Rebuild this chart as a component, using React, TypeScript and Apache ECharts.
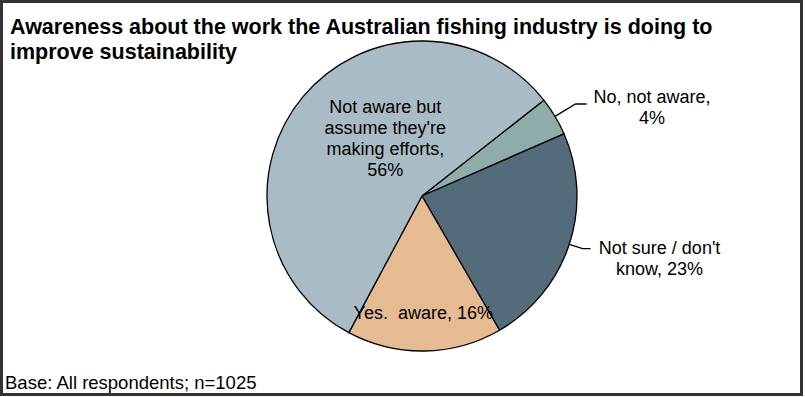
import React, { useEffect, useRef } from "react";
import * as echarts from "echarts";

const titleLines = [
  "Awareness about the work the Australian fishing industry is doing to",
  "improve sustainability",
];
const footnote = "Base: All respondents; n=1025";
const categories = [
  "No, not aware",
  "Not sure / don't know",
  "Yes.  aware",
  "Not aware but assume they're making efforts",
];
const values = [4, 23, 16, 56];
const labelTexts = [
  ["No, not aware,", "4%"],
  ["Not sure / don't", "know, 23%"],
  ["Yes.  aware, 16%"],
  ["Not aware but", "assume they're", "making efforts,", "56%"],
];
const colors = ["#8FABAA", "#546B7B", "#E6BB92", "#A9BCC5"];

export default function App() {
  const ref = useRef<HTMLDivElement>(null);
  useEffect(() => {
    if (!ref.current) return;
    const chart = echarts.init(ref.current, null, { renderer: "svg" });
    const font = "'Liberation Sans', Arial, sans-serif";
    const insideOffsets: Record<number, [number, number]> = {
      2: [0, 37],
      3: [25, -6],
    };
    const boxWidths = [121, 128, 170, 140];
    const padTop = [6, 20, 0, 0];
    const lineLens: Record<number, [number, number]> = {
      0: [24, 11],
      1: [14, 8],
    };
    const data = values.map((v, i) => {
      const outside = i < 2;
      const lines = labelTexts[i];
      return {
        name: categories[i],
        value: v,
        itemStyle: { color: colors[i] },
        label: {
          show: true,
          position: outside ? "outside" : "inside",
          padding: [padTop[i], 0, 0, 0],
          formatter: lines.map((l) => `{a|${l}}`).join("\n"),
          rich: {
            a: {
              fontFamily: font,
              fontSize: 18,
              color: "#000",
              lineHeight: 21,
              width: boxWidths[i],
              align: "center",
            },
          },
        },
        labelLine: outside
          ? {
              show: true,
              length: lineLens[i][0],
              length2: lineLens[i][1],
              lineStyle: { color: "#000", width: 1.3 },
            }
          : { show: false },
      };
    });
    chart.setOption({
      animation: false,
      backgroundColor: "#fff",
      graphic: [
        {
          type: "rect",
          shape: { x: 1.5, y: 1.5, width: 800, height: 393 },
          style: { fill: "none", stroke: "#333", lineWidth: 3 },
          silent: true,
        },
        ...titleLines.map((t, i) => ({
          type: "text",
          left: 10,
          top: 16 + i * 25,
          style: {
            text: t,
            font: `bold 21.5px ${font}`,
            fill: "#000",
          },
        })),
        {
          type: "text",
          left: 5,
          top: 373,
          style: { text: footnote, font: `18.5px ${font}`, fill: "#000" },
        },
      ],
      series: [
        {
          type: "pie",
          center: [422, 196],
          radius: 155,
          startAngle: 38.2,
          clockwise: true,
          avoidLabelOverlap: false,
          itemStyle: { borderColor: "#000", borderWidth: 1.3 },
          emphasis: { disabled: true },
          data,
          labelLayout: (params: any) => {
            const off = insideOffsets[params.dataIndex];
            if (off) return { dx: off[0], dy: off[1] };
            return {};
          },
        },
      ],
    });
    return () => chart.dispose();
  }, []);
  return (
    <div
      ref={ref}
      style={{ position: "fixed", left: 0, top: 0, width: 805, height: 397 }}
    />
  );
}
